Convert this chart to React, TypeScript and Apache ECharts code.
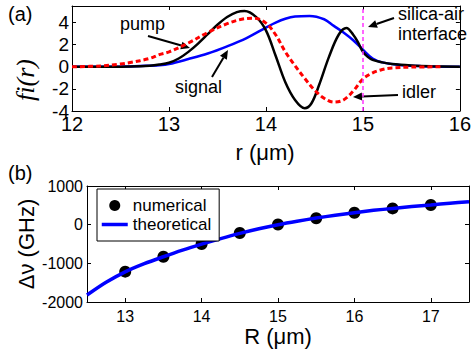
import React, { useEffect, useRef } from 'react';
import * as echarts from 'echarts';

// ---- tick labels ----
const topXTicks = [12, 13, 14, 15, 16];
const topYTicks = [-4, -2, 0, 2, 4];
const botXTicks = [13, 14, 15, 16, 17];
const botYTicks = [-2000, -1000, 0, 1000];

// ---- panel (a): mode profiles f_i(r) ----
const pumpR = [12, 12.4, 12.6, 12.8, 12.9, 13, 13.1, 13.2, 13.3, 13.4, 13.5, 13.6, 13.7, 13.78, 13.9, 14.0, 14.1, 14.2, 14.3, 14.4, 14.47, 14.55, 14.65, 14.75, 14.83, 14.9, 14.95, 15.0, 15.05, 15.1, 15.2, 15.3, 15.5, 15.7, 16];
const pumpF = [0, 0, 0.02, 0.1, 0.2, 0.36, 0.75, 1.35, 2.1, 2.95, 3.8, 4.5, 4.95, 5.05, 4.5, 3.3, 1.0, -1.4, -3.0, -3.75, -3.3, -1.6, 0.9, 2.9, 3.5, 2.9, 2.2, 1.35, 0.9, 0.62, 0.4, 0.25, 0.12, 0.05, 0];

const signalR = [12, 12.5, 12.7, 12.9, 13.0, 13.2, 13.4, 13.6, 13.8, 14.0, 14.1, 14.2, 14.3, 14.45, 14.6, 14.7, 14.8, 14.9, 15.0, 15.1, 15.2, 15.4, 15.6, 16];
const signalF = [0, 0.02, 0.08, 0.15, 0.25, 0.7, 1.2, 1.85, 2.6, 3.55, 4.0, 4.35, 4.55, 4.6, 4.3, 3.7, 3.1, 2.4, 1.55, 0.75, 0.4, 0.15, 0.06, 0];

const idlerR = [12, 12.3, 12.5, 12.6, 12.8, 12.9, 13.0, 13.2, 13.4, 13.6, 13.75, 13.88, 14.0, 14.1, 14.2, 14.3, 14.4, 14.5, 14.6, 14.7, 14.8, 14.9, 15.0, 15.1, 15.2, 15.3, 15.5, 15.8];
const idlerF = [0, 0.08, 0.25, 0.38, 0.75, 1.1, 1.35, 2.15, 3.1, 3.9, 4.3, 4.4, 3.95, 2.9, 1.35, 0.1, -1.05, -2.1, -2.85, -3.2, -3.0, -2.2, -1.1, -0.55, -0.25, -0.1, -0.03, 0];

const interfaceR = 15;

// ---- panel (b): frequency shift ----
const numR = [13, 13.5, 14, 14.5, 15, 15.5, 16, 16.5, 17];
const numDv = [-1215, -830, -500, -215, 5, 165, 310, 420, 510];

const theoR = [12.5, 12.75, 13, 13.25, 13.5, 13.75, 14, 14.25, 14.5, 14.75, 15, 15.25, 15.5, 15.75, 16, 16.25, 16.5, 16.75, 17, 17.25, 17.5];
const theoDv = [-1820, -1490, -1220, -1010, -830, -660, -505, -360, -225, -105, 0, 90, 170, 245, 310, 370, 420, 468, 510, 553, 595];

const SANS = '"Liberation Sans", Arial, sans-serif';
const SERIF = '"Liberation Serif", "Times New Roman", serif';

const zip = (a: number[], b: number[]) => a.map((v, i) => [v, b[i]]);
const plain = (v: number) => String(v);

function arrow(x1: number, y1: number, x2: number, y2: number) {
  const dx = x2 - x1, dy = y2 - y1;
  const L = Math.hypot(dx, dy);
  const ux = dx / L, uy = dy / L;
  const hl = 9, hw = 4;
  const bx = x2 - ux * hl, by = y2 - uy * hl;
  return [
    { type: 'line', shape: { x1, y1, x2: bx, y2: by }, style: { stroke: '#000', lineWidth: 2 }, silent: true },
    {
      type: 'polygon',
      shape: { points: [[x2, y2], [bx - uy * hw, by + ux * hw], [bx + uy * hw, by - ux * hw]] },
      style: { fill: '#000' },
      silent: true,
    },
  ];
}

function txt(text: string, x: number, y: number, size: number, align = 'left', extra: any = {}) {
  return {
    type: 'text',
    x,
    y,
    silent: true,
    ...extra,
    style: {
      text,
      fontSize: size,
      fontFamily: extra.fontFamily || SANS,
      fontStyle: extra.fontStyle || 'normal',
      fill: '#000',
      align,
      verticalAlign: 'middle',
    },
  };
}

const axisBase = {
  type: 'value',
  axisLine: { show: true, onZero: false, lineStyle: { color: '#000', width: 1 } },
  splitLine: { show: false },
};

export default function App() {
  const ref = useRef<HTMLDivElement>(null);
  useEffect(() => {
    if (!ref.current) return;
    const chart = echarts.init(ref.current, undefined, { renderer: 'svg' });
    const tick = (vals: number[]) => ({ show: true, inside: true, length: 4, customValues: vals, lineStyle: { color: '#000', width: 1 } });
    const option: any = {
      animation: false,
      backgroundColor: '#fff',
      grid: [
        { left: 72, top: 6, width: 389, height: 105 },
        { left: 87, top: 186, width: 382, height: 116 },
      ],
      xAxis: [
        { ...axisBase, gridIndex: 0, position: 'bottom', min: 12, max: 16, axisTick: tick(topXTicks),
          axisLabel: { customValues: topXTicks, formatter: plain, fontSize: 20, fontFamily: SANS, color: '#000', margin: 3 } },
        { ...axisBase, gridIndex: 0, position: 'top', min: 12, max: 16, axisTick: tick([13, 14, 15]), axisLabel: { show: false } },
        { ...axisBase, gridIndex: 1, position: 'bottom', min: 12.5, max: 17.5, axisTick: tick(botXTicks),
          axisLabel: { customValues: botXTicks, formatter: plain, fontSize: 16, fontFamily: SANS, color: '#000', margin: 6 } },
        { ...axisBase, gridIndex: 1, position: 'top', min: 12.5, max: 17.5, axisTick: tick(botXTicks), axisLabel: { show: false } },
      ],
      yAxis: [
        { ...axisBase, gridIndex: 0, position: 'left', min: -4, max: 5.5, axisTick: tick(topYTicks),
          axisLabel: { customValues: topYTicks, formatter: plain, fontSize: 19, fontFamily: SANS, color: '#000', margin: 3 } },
        { ...axisBase, gridIndex: 0, position: 'right', min: -4, max: 5.5, axisTick: tick(topYTicks), axisLabel: { show: false } },
        { ...axisBase, gridIndex: 1, position: 'left', min: -2000, max: 1000, axisTick: tick(botYTicks),
          axisLabel: { customValues: botYTicks, formatter: plain, fontSize: 16, fontFamily: SANS, color: '#000', margin: 4 } },
        { ...axisBase, gridIndex: 1, position: 'right', min: -2000, max: 1000, axisTick: tick([-1000, 0]), axisLabel: { show: false } },
      ],
      legend: {
        left: 97,
        top: 189,
        orient: 'vertical',
        backgroundColor: '#fff',
        borderColor: '#000',
        borderWidth: 1,
        borderRadius: 0,
        padding: [8, 8, 8, 3],
        itemGap: 2,
        itemWidth: 26,
        itemHeight: 11,
        textStyle: { fontSize: 17, fontFamily: SANS, color: '#000' },
        data: [
          { name: 'numerical', icon: 'circle', itemStyle: { color: '#000', opacity: 1 } },
          { name: 'theoretical', itemStyle: { opacity: 0 }, lineStyle: { color: '#0000ff', width: 3.5 } },
        ],
      },
      series: [
        {
          name: 'signal', type: 'line', xAxisIndex: 0, yAxisIndex: 0, data: zip(signalR, signalF),
          showSymbol: false, symbol: 'none', smooth: 0.35, lineStyle: { color: '#0000ff', width: 2.5 },
        },
        {
          name: 'pump', type: 'line', xAxisIndex: 0, yAxisIndex: 0, data: zip(pumpR, pumpF),
          showSymbol: false, symbol: 'none', smooth: 0.35, lineStyle: { color: '#000', width: 2.5 },
        },
        {
          name: 'idler', type: 'line', xAxisIndex: 0, yAxisIndex: 0, data: zip(idlerR, idlerF),
          showSymbol: false, symbol: 'none', smooth: 0.35, lineStyle: { color: '#ff0000', width: 3, type: [5, 3] },
          markLine: {
            silent: true, symbol: 'none', label: { show: false },
            lineStyle: { color: '#ff33ff', type: [4, 3], width: 1.5 },
            data: [{ xAxis: interfaceR }],
          },
        },
        {
          name: 'theoretical', type: 'line', xAxisIndex: 2, yAxisIndex: 2, data: zip(theoR, theoDv),
          showSymbol: false, symbol: 'none', smooth: 0.3, lineStyle: { color: '#0000ff', width: 3.5 },
          itemStyle: { color: '#0000ff' },
        },
        {
          name: 'numerical', type: 'scatter', xAxisIndex: 2, yAxisIndex: 2, data: zip(numR, numDv),
          symbol: 'circle', symbolSize: 12, itemStyle: { color: '#000', opacity: 1 },
        },
      ],
      graphic: [
        txt('(a)', 8, 14, 20),
        txt('(b)', 8, 173, 20),
        txt('pump', 120, 24, 18),
        txt('signal', 175, 87, 18),
        txt('silica-air', 398, 14, 18),
        txt('interface', 398, 34, 18),
        txt('idler', 402, 92, 18),
        txt('r (μm)', 265, 152, 22, 'center'),
        txt('R (μm)', 278, 336, 22, 'center'),
        txt('fi(r)', 25, 80, 26, 'center', { rotation: Math.PI / 2, fontFamily: SERIF, fontStyle: 'italic' }),
        txt('Δν (GHz)', 26, 244, 22, 'center', { rotation: Math.PI / 2 }),
        ...arrow(148, 36, 190, 48),
        ...arrow(212, 77, 228, 50),
        ...arrow(394, 18, 368, 27),
        ...arrow(398, 95, 353, 97),
      ],
    };
    chart.setOption(option);
    return () => chart.dispose();
  }, []);
  return (
    <div
      ref={ref}
      style={{ position: 'fixed', left: 0, top: 0, width: 474, height: 353, background: '#fff' }}
    />
  );
}
